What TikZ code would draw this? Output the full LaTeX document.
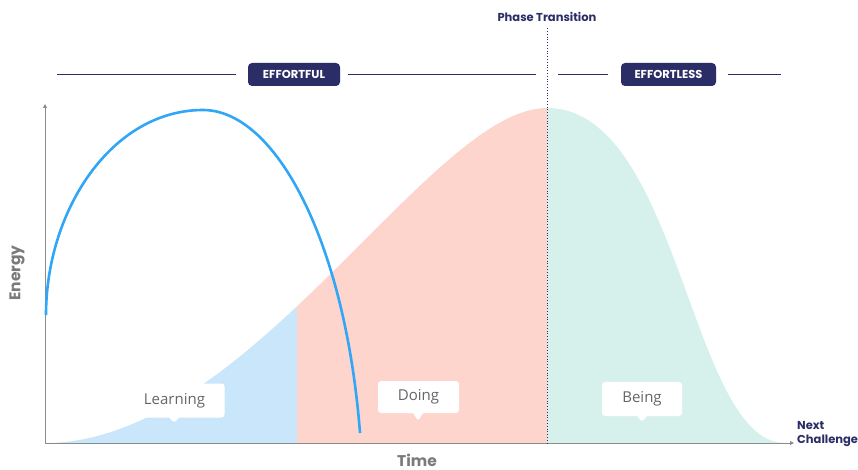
\documentclass[tikz,border=0pt]{standalone}
\usepackage{fontspec}
\setmainfont{Open Sans}
\newfontfamily\headfont{Poppins}
\usetikzlibrary{arrows.meta,shapes.callouts}

\definecolor{navy}{HTML}{2B2D66}
\definecolor{axisgray}{HTML}{8C8C8C}
\definecolor{labelgray}{HTML}{7A7A7A}
\definecolor{tagtext}{HTML}{666666}
\definecolor{arcblue}{HTML}{30A6F6}
\definecolor{learnfill}{HTML}{C9E6FB}
\definecolor{dofill}{HTML}{FDD5CD}
\definecolor{befill}{HTML}{D6F1EC}

\begin{document}
\begin{tikzpicture}[x=1pt, y=-1pt,
		axis/.style={draw=axisgray, line width=1pt, -{Triangle[length=4pt, width=4pt]}},
		axlabel/.style={font=\headfont\bfseries\fontsize{15.5}{17}\selectfont, text=labelgray},
		band/.style={draw=navy, line width=0.8pt},
		stage/.style={fill=navy, rounded corners=4pt, text=white, minimum height=23pt,
				font=\headfont\bfseries\fontsize{11.5}{13}\selectfont},
		tag/.style={rectangle callout, fill=white, rounded corners=3pt,
				callout pointer width=10pt, inner xsep=0pt, minimum height=34pt,
				text=tagtext, font=\fontsize{15}{18}\selectfont}
		]
	\useasboundingbox (0,0) rectangle (858,470);

	% filled energy curve, split into the three stages
	\begin{scope}
		\clip (45,443) .. controls (250,443) and (430,108) .. (547,108)
		.. controls (680,108) and (690,443) .. (785,443) -- cycle;
		\fill[learnfill] (40,100) rectangle (297,445);
		\fill[dofill] (297,100) rectangle (547,445);
		\fill[befill] (547,100) rectangle (795,445);
	\end{scope}

	% axes
	\coordinate (origin) at (45,443);
	\coordinate (ytop) at (45,104);
	\coordinate (xend) at (794,443);
	\draw[axis] (origin) -- (ytop);
	\draw[axis] (origin) -- (xend);
	\node[axlabel, rotate=90] (energy) at (17,273) {Energy};
	\node[axlabel] (time) at (417,460) {Time};
	\node[anchor=west, align=left, text=navy, inner sep=0pt,
		font=\headfont\bfseries\fontsize{11.5}{14}\selectfont] (next) at (797,434)
	{Next\\Challenge};

	% learning arc
	\draw[arcblue, line width=2.6pt] (46,315) .. controls (46,210) and (112,110) .. (203,110)
	.. controls (275,110) and (345,240) .. (360,433);

	% phase transition marker
	\node[text=navy, font=\headfont\bfseries\fontsize{11.5}{13}\selectfont] (phase) at (547,17)
	{Phase Transition};
	\coordinate (phasefoot) at (547,443);
	\draw[navy, dotted, line width=0.8pt] ([yshift=-3pt]phase.south) -- (phasefoot);

	% stage headers
	\node[stage, minimum width=92pt] (effortful) at (294,74.5) {EFFORTFUL};
	\node[stage, minimum width=95pt] (effortless) at (668.5,74.5) {EFFORTLESS};
	\coordinate (bandleft) at (57,74);
	\coordinate (bandmidl) at (536,74);
	\coordinate (bandmidr) at (558,74);
	\coordinate (bandright) at (781,74);
	\draw[band, shorten >=12pt] (bandleft) -- (bandleft -| effortful.west);
	\draw[band, shorten <=8pt] (bandmidl -| effortful.east) -- (bandmidl);
	\draw[band, shorten >=13pt] (bandmidr) -- (bandmidr -| effortless.west);
	\draw[band, shorten <=12pt] (bandright -| effortless.east) -- (bandright);

	% stage callouts
	\node[tag, minimum width=100pt, callout absolute pointer={(174,423)}] (learning)
	at (174.5,400.5) {Learning};
	\node[tag, minimum width=81pt, minimum height=32pt, callout absolute pointer={(418,421)}] (doing)
	at (418.5,397) {Doing};
	\node[tag, minimum width=80pt, callout absolute pointer={(642,422)}] (being)
	at (642,399) {Being};
\end{tikzpicture}
\end{document}
